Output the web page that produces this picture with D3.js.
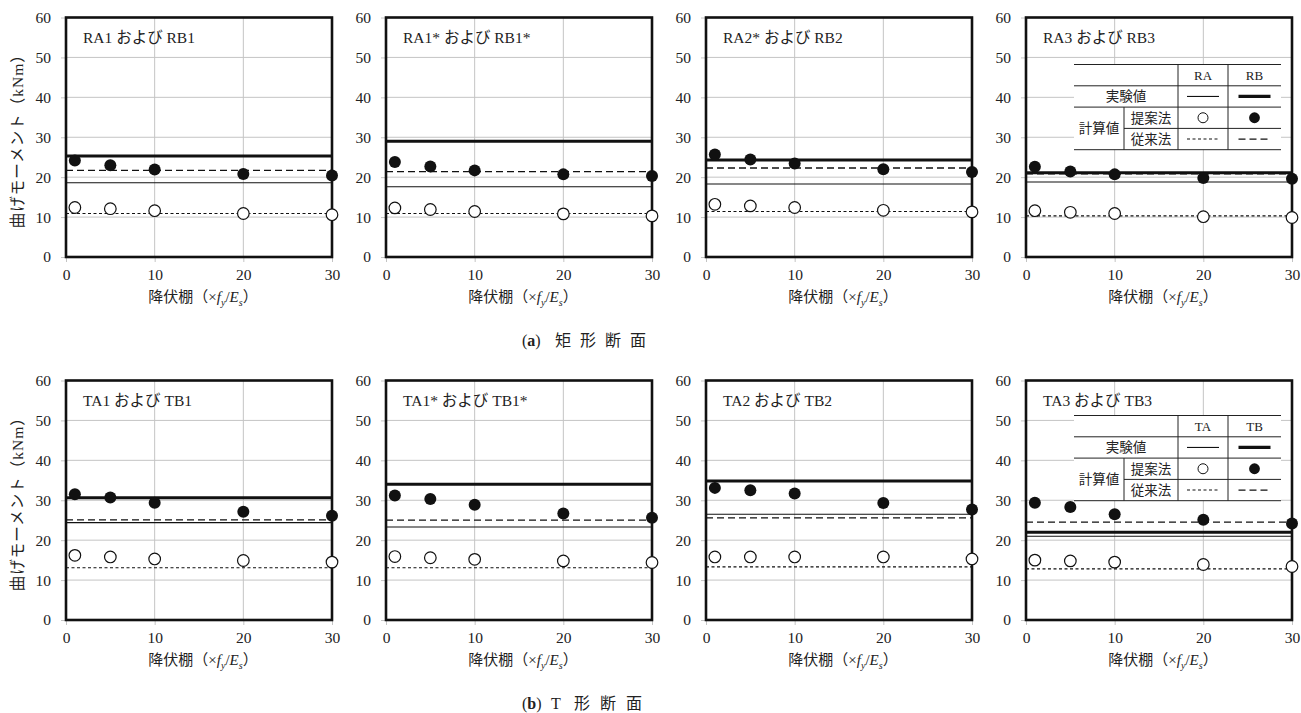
<!DOCTYPE html>
<head>
  <meta charset="utf-8">
  <script src="https://d3js.org/d3.v7.min.js"></script>
  <style>
  body { margin: 0; background: #fff; }
  svg text { fill: #222; }
  </style>
</head>

<body>
  <script>

    // yield plateau length (x fy/Es) where the calculations were made
    var xSteps = [1, 5, 10, 20, 30];
    var xTicks = [0, 10, 20, 30];
    var yTicks = [0, 10, 20, 30, 40, 50, 60];

    // (a) rectangular sections
    var rectTitles = ["RA1 および RB1", "RA1* および RB1*", "RA2* および RB2", "RA3 および RB3"];
    var rectExpA = [18.6, 17.6, 18.3, 18.8];
    var rectExpB = [25.3, 29.0, 24.3, 21.1];
    var rectConvA = [10.9, 10.9, 11.4, 10.3];
    var rectConvB = [21.7, 21.4, 22.3, 20.8];
    var rectPropA = [
      [12.4, 12.1, 11.6, 10.9, 10.6],
      [12.3, 11.9, 11.4, 10.8, 10.3],
      [13.2, 12.8, 12.4, 11.7, 11.3],
      [11.6, 11.2, 10.9, 10.1, 9.9]
    ];
    var rectPropB = [
      [24.2, 23.0, 21.9, 20.8, 20.4],
      [23.8, 22.7, 21.7, 20.7, 20.3],
      [25.7, 24.4, 23.4, 22.0, 21.3],
      [22.6, 21.4, 20.7, 19.8, 19.6]
    ];

    // (b) T sections
    var tTitles = ["TA1 および TB1", "TA1* および TB1*", "TA2 および TB2", "TA3 および TB3"];
    var tExpA = [24.4, 23.3, 26.5, 21.0];
    var tExpB = [30.6, 34.0, 34.8, 22.0];
    var tConvA = [13.1, 13.1, 13.3, 12.8];
    var tConvB = [25.1, 25.0, 25.6, 24.5];
    var tPropA = [
      [16.2, 15.8, 15.3, 14.9, 14.5],
      [15.9, 15.6, 15.2, 14.8, 14.4],
      [15.8, 15.8, 15.8, 15.8, 15.3],
      [15.0, 14.8, 14.5, 13.9, 13.4]
    ];
    var tPropB = [
      [31.5, 30.7, 29.4, 27.1, 26.1],
      [31.2, 30.3, 28.9, 26.7, 25.6],
      [33.1, 32.5, 31.7, 29.3, 27.7],
      [29.4, 28.3, 26.5, 25.1, 24.2]
    ];

    var rows = [
      { titles: rectTitles, expA: rectExpA, expB: rectExpB, convA: rectConvA, convB: rectConvB,
        propA: rectPropA, propB: rectPropB, keys: ["RA", "RB"], tag: "a", caption: "矩形断面" },
      { titles: tTitles, expA: tExpA, expB: tExpB, convA: tConvA, convB: tConvB,
        propA: tPropA, propB: tPropB, keys: ["TA", "TB"], tag: "b", caption: "形断面" }
    ];

    var serif = "'Liberation Serif', 'Noto Sans CJK JP', serif";
    var jp = "'Noto Sans CJK JP', sans-serif";
    var gridColor = "#c4c4c4";

    var plotW = 266,
        plotH = 239.5,
        left0 = 66,
        colStep = 320,
        rowTop = [17.5, 380.5],
        legendTop = [47, 35];

    var x = d3.scaleLinear().domain([0, 30]).range([0, plotW]);
    var y = d3.scaleLinear().domain([0, 60]).range([plotH, 0]);

    var svg = d3.select('body').append('svg')
        .attr('width', 1301)
        .attr('height', 713);

    function hline(g, v, width, dash) {
      g.append('line')
        .attr('x1', x(0)).attr('x2', x(30))
        .attr('y1', y(v)).attr('y2', y(v))
        .attr('stroke', '#111')
        .attr('stroke-width', width)
        .attr('stroke-dasharray', dash);
    }

    function drawLegend(g, keys, top) {
      var lx = 48, w = 207, rh = 21.3;
      var c1 = lx + 104, c2 = lx + 154, sub = lx + 50;
      var midA = (c1 + c2) / 2, midB = (c2 + lx + w) / 2;
      var leg = g.append('g').attr('transform', 'translate(0,' + top + ')');

      leg.append('rect').attr('x', lx).attr('y', 0).attr('width', w).attr('height', rh * 4).attr('fill', '#fff');
      [0, 1, 2, 4].forEach(function(i) {
        leg.append('line').attr('x1', lx).attr('x2', lx + w).attr('y1', i * rh).attr('y2', i * rh)
          .attr('stroke', '#222').attr('stroke-width', 1);
      });
      leg.append('line').attr('x1', sub).attr('x2', lx + w).attr('y1', 3 * rh).attr('y2', 3 * rh)
        .attr('stroke', '#222').attr('stroke-width', 1);
      [c1, c2].forEach(function(cx) {
        leg.append('line').attr('x1', cx).attr('x2', cx).attr('y1', 0).attr('y2', 4 * rh)
          .attr('stroke', '#222').attr('stroke-width', 1);
      });
      leg.append('line').attr('x1', sub).attr('x2', sub).attr('y1', 2 * rh).attr('y2', 4 * rh)
        .attr('stroke', '#222').attr('stroke-width', 1);

      function label(txt, cx, cy, font, size) {
        leg.append('text').attr('x', cx).attr('y', cy).attr('dy', '0.36em')
          .attr('text-anchor', 'middle').attr('font-family', font).attr('font-size', size)
          .text(txt);
      }
      label(keys[0], midA, rh * 0.5, serif, 13);
      label(keys[1], midB, rh * 0.5, serif, 13);
      label("実験値", (lx + c1) / 2, rh * 1.5, jp, 13.5);
      label("計算値", (lx + sub) / 2, rh * 3, jp, 13.5);
      label("提案法", (sub + c1) / 2, rh * 2.5, jp, 13.5);
      label("従来法", (sub + c1) / 2, rh * 3.5, jp, 13.5);

      function sample(cx, cy, width, dash) {
        leg.append('line').attr('x1', cx - 16).attr('x2', cx + 16).attr('y1', cy).attr('y2', cy)
          .attr('stroke', '#111').attr('stroke-width', width).attr('stroke-dasharray', dash);
      }
      sample(midA, rh * 1.5, 1.1, null);
      sample(midB, rh * 1.5, 3.2, null);
      leg.append('circle').attr('cx', midA).attr('cy', rh * 2.5).attr('r', 5)
        .attr('fill', '#fff').attr('stroke', '#111').attr('stroke-width', 1);
      leg.append('circle').attr('cx', midB).attr('cy', rh * 2.5).attr('r', 5.4).attr('fill', '#111');
      sample(midA, rh * 3.5, 1.1, '3,2.5');
      sample(midB, rh * 3.5, 1.3, '7,4');
    }

    rows.forEach(function(row, r) {
      row.titles.forEach(function(title, c) {
        var g = svg.append('g')
            .attr('transform', 'translate(' + (left0 + c * colStep) + ',' + rowTop[r] + ')');

        // gridlines
        g.selectAll('.hgrid').data(yTicks.slice(1, -1)).enter().append('line')
            .attr('x1', 0).attr('x2', plotW)
            .attr('y1', function(d) { return y(d); }).attr('y2', function(d) { return y(d); })
            .attr('stroke', gridColor).attr('stroke-width', 1);
        g.selectAll('.vgrid').data(xTicks.slice(1, -1)).enter().append('line')
            .attr('y1', 0).attr('y2', plotH)
            .attr('x1', function(d) { return x(d); }).attr('x2', function(d) { return x(d); })
            .attr('stroke', gridColor).attr('stroke-width', 1);

        // axes
        var yAxis = g.append('g')
            .call(d3.axisLeft(y).tickValues(yTicks).tickSize(5).tickPadding(10));
        var xAxis = g.append('g')
            .attr('transform', 'translate(0,' + plotH + ')')
            .call(d3.axisBottom(x).tickValues(xTicks).tickSize(5).tickPadding(7));
        [yAxis, xAxis].forEach(function(ax) {
          ax.select('.domain').remove();
          ax.selectAll('line').attr('stroke', gridColor);
          ax.attr('font-family', serif).attr('font-size', 15.5);
          ax.selectAll('text').attr('fill', '#222');
        });

        // frame
        g.append('rect')
            .attr('x', 0).attr('y', 0).attr('width', plotW).attr('height', plotH)
            .attr('fill', 'none').attr('stroke', '#111').attr('stroke-width', 2.6);

        // panel title
        g.append('text')
            .attr('x', 17).attr('y', 25)
            .attr('font-family', serif).attr('font-size', 15.5)
            .text(title);

        if (c === 3) drawLegend(g, row.keys, legendTop[r]);

        // experimental and conventional levels
        hline(g, row.expA[c], 1.1, null);
        hline(g, row.convA[c], 1.1, '3,2.5');
        hline(g, row.convB[c], 1.3, '7,4');
        hline(g, row.expB[c], 3, null);

        // proposed method
        g.selectAll('.propB').data(row.propB[c]).enter().append('circle')
            .attr('cx', function(d, i) { return x(xSteps[i]); })
            .attr('cy', function(d) { return y(d); })
            .attr('r', 6)
            .attr('fill', '#111');
        g.selectAll('.propA').data(row.propA[c]).enter().append('circle')
            .attr('cx', function(d, i) { return x(xSteps[i]); })
            .attr('cy', function(d) { return y(d); })
            .attr('r', 5.8)
            .attr('fill', '#fff').attr('stroke', '#111').attr('stroke-width', 1.2);

        // x axis title
        var xt = g.append('text')
            .attr('x', plotW / 2 + 4).attr('y', plotH + 44.5)
            .attr('text-anchor', 'middle')
            .attr('font-family', serif).attr('font-size', 15);
        xt.append('tspan').text('降伏棚（×');
        xt.append('tspan').attr('font-style', 'italic').text('f');
        xt.append('tspan').attr('font-style', 'italic').attr('font-size', 10).attr('dy', 4).text('y');
        xt.append('tspan').attr('dy', -4).text('/');
        xt.append('tspan').attr('font-style', 'italic').text('E');
        xt.append('tspan').attr('font-style', 'italic').attr('font-size', 10).attr('dy', 4).text('s');
        xt.append('tspan').attr('dy', -4).text('）');

        if (c === 0) {
          svg.append('text')
              .attr('transform', 'translate(17.5,' + (rowTop[r] + plotH / 2) + ') rotate(-90)')
              .attr('dy', '0.36em')
              .attr('text-anchor', 'middle')
              .attr('font-family', serif).attr('font-size', 15.5)
              .attr('letter-spacing', 1)
              .text('曲げモーメント（kNm）');
        }
      });

      // caption under each row
      var capY = rowTop[r] + plotH + 88.5;
      var cap = svg.append('text').attr('x', 522).attr('y', capY)
          .attr('font-family', serif).attr('font-size', 16);
      cap.append('tspan').text('(');
      cap.append('tspan').attr('font-weight', 'bold').text(row.tag);
      cap.append('tspan').text(')');
      if (r === 1) {
        svg.append('text').attr('x', 551).attr('y', capY)
            .attr('font-family', serif).attr('font-size', 16).text('T');
      }
      svg.append('text').attr('x', r === 0 ? 555 : 574).attr('y', capY)
          .attr('font-family', jp).attr('font-size', 16).attr('letter-spacing', r === 0 ? 9 : 10)
          .text(row.caption);
    });

  </script>
</body>
